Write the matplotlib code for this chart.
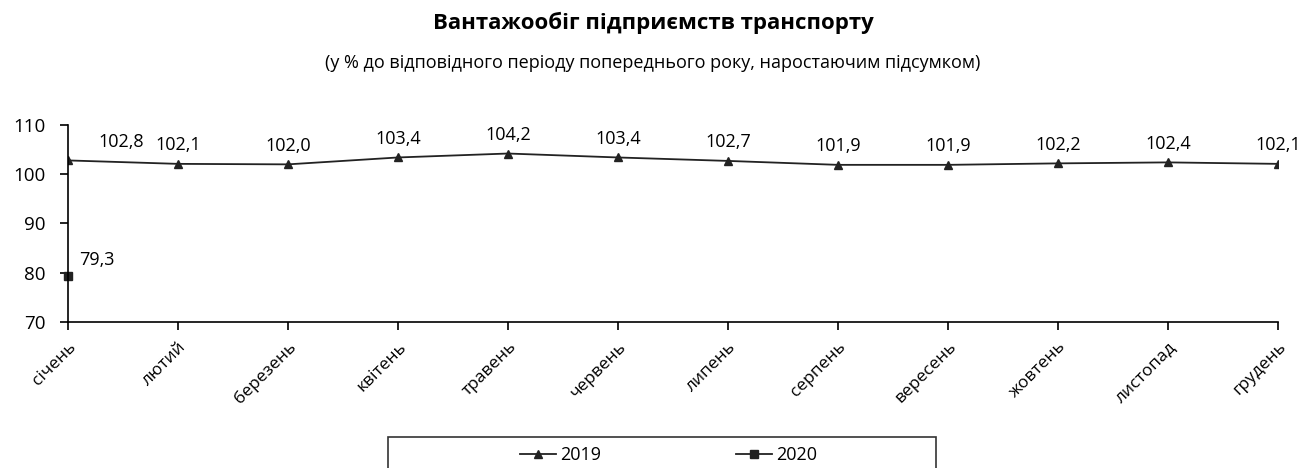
import matplotlib.pyplot as plt
import numpy as np
from matplotlib.patches import Rectangle

plt.rcParams['font.family'] = ['Open Sans', 'DejaVu Sans']

months = ['січень', 'лютий', 'березень', 'квітень', 'травень', 'червень',
          'липень', 'серпень', 'вересень', 'жовтень', 'листопад', 'грудень']
vals_2019 = [102.8, 102.1, 102.0, 103.4, 104.2, 103.4,
             102.7, 101.9, 101.9, 102.2, 102.4, 102.1]
vals_2020 = [79.3]

x = np.arange(len(months))

fig = plt.figure(figsize=(13.06, 4.68), dpi=100)
ax = fig.add_axes([0.052, 0.312, 0.9266, 0.421])

ax.plot(x, vals_2019, color='#222222', lw=1.3, marker='^', ms=6, label='2019')
ax.plot(x[:len(vals_2020)], vals_2020, color='#222222', lw=1.3, marker='s', ms=6,
        label='2020', clip_on=False)

for i, (xi, v) in enumerate(zip(x, vals_2019)):
    dx = 38 if i == 0 else 0
    ax.annotate(f'{v:.1f}'.replace('.', ','), (xi, v), xytext=(dx, 7),
                textcoords='offset points', ha='center', va='bottom', fontsize=13,
                annotation_clip=False)
for xi, v in zip(x, vals_2020):
    ax.annotate(f'{v:.1f}'.replace('.', ','), (xi, v), xytext=(8, 5),
                textcoords='offset points', ha='left', va='bottom', fontsize=13)

ax.set_xlim(0, 11)
ax.set_ylim(70, 110)
ax.set_yticks([70, 80, 90, 100, 110])
ax.set_xticks(x)
ax.set_xticklabels(months, rotation=45, ha='right', rotation_mode='anchor', fontsize=12.5)
ax.tick_params(axis='y', labelsize=13.5, length=6, width=1.2, pad=10)
ax.tick_params(axis='x', length=6, width=1.2, pad=6)
for s in ['top', 'right']:
    ax.spines[s].set_visible(False)
for s in ['left', 'bottom']:
    ax.spines[s].set_linewidth(1.2)

fig.text(0.5, 0.952, 'Вантажообіг підприємств транспорту', ha='center', va='center',
         fontsize=16, fontweight='bold')
fig.text(0.5, 0.866, '(у % до відповідного періоду попереднього року, наростаючим підсумком)',
         ha='center', va='center', fontsize=13)

# legend box (cut by the bottom edge like the original)
fig.patches.append(Rectangle((0.297, -0.05), 0.42, 0.116, transform=fig.transFigure,
                             fill=False, edgecolor='#333333', lw=1.2))
fig.legend(loc='center', bbox_to_anchor=(0.512, 0.028), ncol=2, fontsize=13,
           frameon=False, handlelength=2.0, handletextpad=0.2, columnspacing=7.5)

fig.savefig('out.png', dpi=100)
